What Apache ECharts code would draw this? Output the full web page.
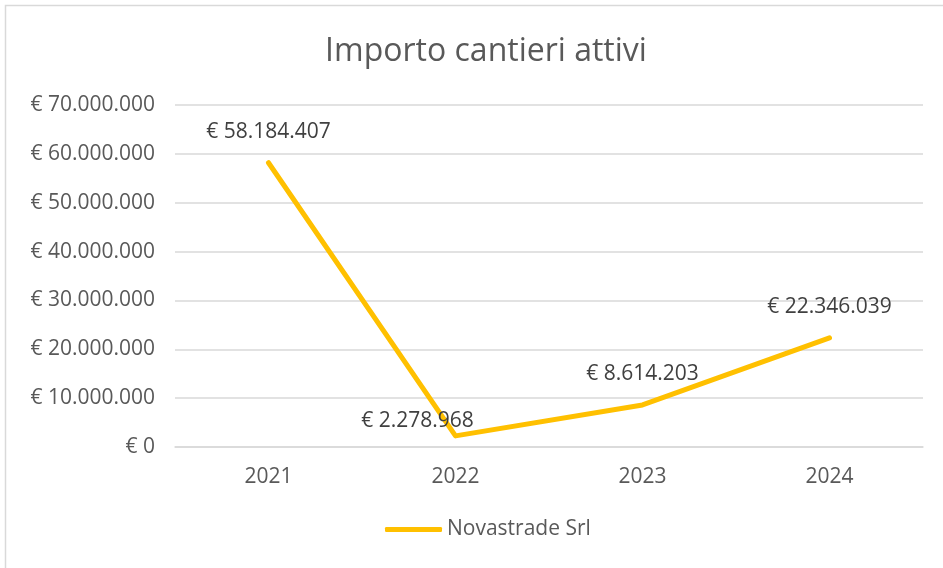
<!DOCTYPE html>
<html>
<head>
<meta charset="utf-8">
<script src="https://cdn.jsdelivr.net/npm/echarts@6/dist/echarts.min.js"></script>
<style>
  html, body { margin: 0; padding: 0; background: #fff; }
  #chart { width: 943px; height: 568px; }
</style>
</head>
<body>
<div id="chart"></div>
<script>
var anni = ['2021', '2022', '2023', '2024'];
var importi = [58184407, 2278968, 8614203, 22346039];
var nomeSerie = 'Novastrade Srl';

function euro(v) {
  var s = Math.round(v).toString().replace(/\B(?=(\d{3})+(?!\d))/g, '.');
  return '€ ' + s;
}

var dati = importi.map(function (v, i) {
  var d = { value: v, label: { distance: 20 } };
  if (i === 1) d.label = { distance: 4, offset: [-38, 0] }; // etichetta spostata a sinistra
  return d;
});

var chart = echarts.init(document.getElementById('chart'));
var option = {
  backgroundColor: '#fff',
  textStyle: { fontFamily: 'Open Sans' },
  graphic: [{
    type: 'rect',
    shape: { x: 5.5, y: 5.5, width: 950, height: 580 },
    style: { fill: 'none', stroke: '#d9d9d9', lineWidth: 1.5 },
    silent: true
  }],
  title: {
    text: 'Importo cantieri attivi',
    left: 481,
    top: 31,
    textAlign: 'center',
    textStyle: { fontSize: 32, fontWeight: 'normal', color: '#595959', fontFamily: 'Open Sans' }
  },
  legend: {
    bottom: 23,
    left: 380,
    itemWidth: 57,
    itemHeight: 5,
    itemGap: 10,
    icon: 'roundRect',
    itemStyle: { color: '#ffc000', opacity: 1 },
    textStyle: { fontSize: 21, color: '#595959' },
    data: [nomeSerie]
  },
  grid: { left: 175, right: 20, top: 105, bottom: 121 },
  xAxis: {
    type: 'category',
    data: anni,
    boundaryGap: true,
    axisLine: { lineStyle: { color: '#d9d9d9', width: 1.5 } },
    axisTick: { show: false },
    axisLabel: { fontSize: 21, color: '#595959', margin: 20 }
  },
  yAxis: {
    type: 'value',
    min: 0,
    max: 70000000,
    interval: 10000000,
    axisLine: { show: false },
    axisTick: { show: false },
    splitLine: { lineStyle: { color: '#d9d9d9', width: 1.5 } },
    axisLabel: { fontSize: 21, color: '#595959', margin: 20, formatter: euro }
  },
  series: [{
    name: nomeSerie,
    type: 'line',
    data: dati,
    showSymbol: true,
    symbol: 'circle',
    symbolSize: 1,
    lineStyle: { color: '#ffc000', width: 5, cap: 'round', join: 'round' },
    itemStyle: { color: 'rgba(255,192,0,0)', borderWidth: 0 },
    label: {
      show: true,
      position: 'top',
      fontSize: 21,
      color: '#404040',
      formatter: function (p) { return euro(p.value); }
    }
  }]
};
chart.setOption(option);
</script>
</body>
</html>
